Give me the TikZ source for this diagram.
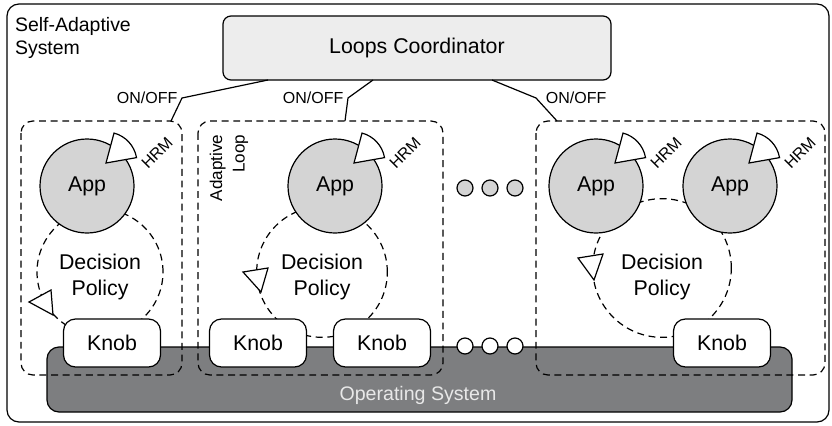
\documentclass[tikz,border=0pt]{standalone}
\usepackage{fontspec}
\setmainfont{Liberation Sans}
\usepackage{tikz}

\definecolor{appgray}{RGB}{212,212,212}
\definecolor{coordgray}{RGB}{237,237,237}
\definecolor{osgray}{RGB}{125,126,128}
\definecolor{oslabel}{RGB}{232,232,232}

\begin{document}
\begin{tikzpicture}[x=0.75pt,y=-0.75pt,line width=0.9pt,
  big/.style={font=\fontsize{16}{19}\selectfont},
  app/.style={circle,draw,fill=appgray,minimum size=70.5pt,inner sep=0pt,big},
  knob/.style={rectangle,draw,fill=white,rounded corners=9pt,minimum width=72.75pt,minimum height=36pt,inner sep=0pt,big},
  policy/.style={circle,draw,dash pattern=on 5.2pt off 3.5pt,inner sep=0pt},
  loopbox/.style={draw,dash pattern=on 5.2pt off 3.5pt,rounded corners=9pt},
  hrm/.style={draw,fill=white},
  tri/.style={draw,fill=white,line join=miter},
  dot/.style={circle,draw,minimum size=12pt,inner sep=0pt},
  small/.style={font=\fontsize{12}{14}\selectfont,inner sep=3pt}]
\useasboundingbox (0,0) rectangle (832,425);

\draw[rounded corners=9pt] (7,4) rectangle (829,422);
\node[anchor=north west,align=left,font=\fontsize{14.6}{17.5}\selectfont] (sas) at (10,12) {Self-Adaptive\\System};

\node[rectangle,draw,fill=coordgray,rounded corners=6pt,minimum width=291pt,minimum height=48pt,big] (lc) at (417,48) {Loops Coordinator};

\node[rectangle,draw,fill=osgray,rounded corners=9pt,minimum width=558.75pt,minimum height=48.75pt] (os) at (419.5,379.5) {};
\node[text=oslabel,font=\fontsize{14.7}{17}\selectfont] (oslabel) at (418,395) {Operating System};

\node[policy,minimum size=94.5pt] (dp1) at (100,272) {};
\node[policy,minimum size=98pt] (dp2) at (322,272) {};
\node[policy,minimum size=104pt] (dp3) at (662,268) {};
\node[big,align=center] (dpt1) at (100,277) {Decision\\Policy};
\node[big,align=center] (dpt2) at (322,277) {Decision\\Policy};
\node[big,align=center] (dpt3) at (662,277) {Decision\\Policy};

\node[app] (app1) at (87,186) {App};
\node[app] (app2) at (335,186) {App};
\node[app] (app3) at (596,186) {App};
\node[app] (app4) at (730,186) {App};
\foreach \a in {1,2,3,4} {
  \draw[hrm] ([shift={(19,-23)}]app\a.center) -- ++(-75:31) arc[start angle=-75,end angle=-10,radius=31] -- cycle;
  \node[small,rotate=45,inner sep=1pt] (hrm\a) at ([shift={(70,-33)}]app\a.center) {HRM};
}

\node[knob] (k1) at (112,343) {Knob};
\node[knob] (k2) at (258,343) {Knob};
\node[knob] (k3) at (382,343) {Knob};
\node[knob] (k4) at (722,343) {Knob};

\foreach \i in {0,1,2} {
  \node[dot,fill=appgray] (up\i) at (465+25*\i,188) {};
  \node[dot,fill=white] (low\i) at (465+25*\i,346) {};
}

\draw[loopbox] (21,121) rectangle (182,375);
\draw[loopbox] (198,121) rectangle (443,375);
\draw[loopbox] (536,121) rectangle (825,375);
\node[rotate=90,align=right,font=\fontsize{12.8}{17}\selectfont] (adl) at (229,168) {Adaptive\\Loop};

\coordinate (lc1) at (268,80);
\coordinate (lc2) at (373,80);
\coordinate (lc3) at (492,80);
\coordinate (bend1) at (182,98);
\coordinate (bend2) at (348,98);
\coordinate (bend3) at (536,98);
\coordinate (lp1) at (171,121);
\coordinate (lp2) at (345,121);
\coordinate (lp3) at (557,121);
\foreach \n in {1,2,3}
  \draw (lc\n) -- (bend\n) -- (lp\n);
\node[small,anchor=east] (oo1) at (bend1) {ON/OFF};
\node[small,anchor=east] (oo2) at (bend2) {ON/OFF};
\node[small,anchor=west,xshift=4pt] (oo3) at (bend3) {ON/OFF};

\draw[tri] (29,302) -- (51,290) -- (53,315) -- cycle;
\draw[tri] (243,272) -- (268,268) -- (261,292) -- cycle;
\draw[tri] (578,258) -- (603,254) -- (594,280) -- cycle;
\end{tikzpicture}
\end{document}
